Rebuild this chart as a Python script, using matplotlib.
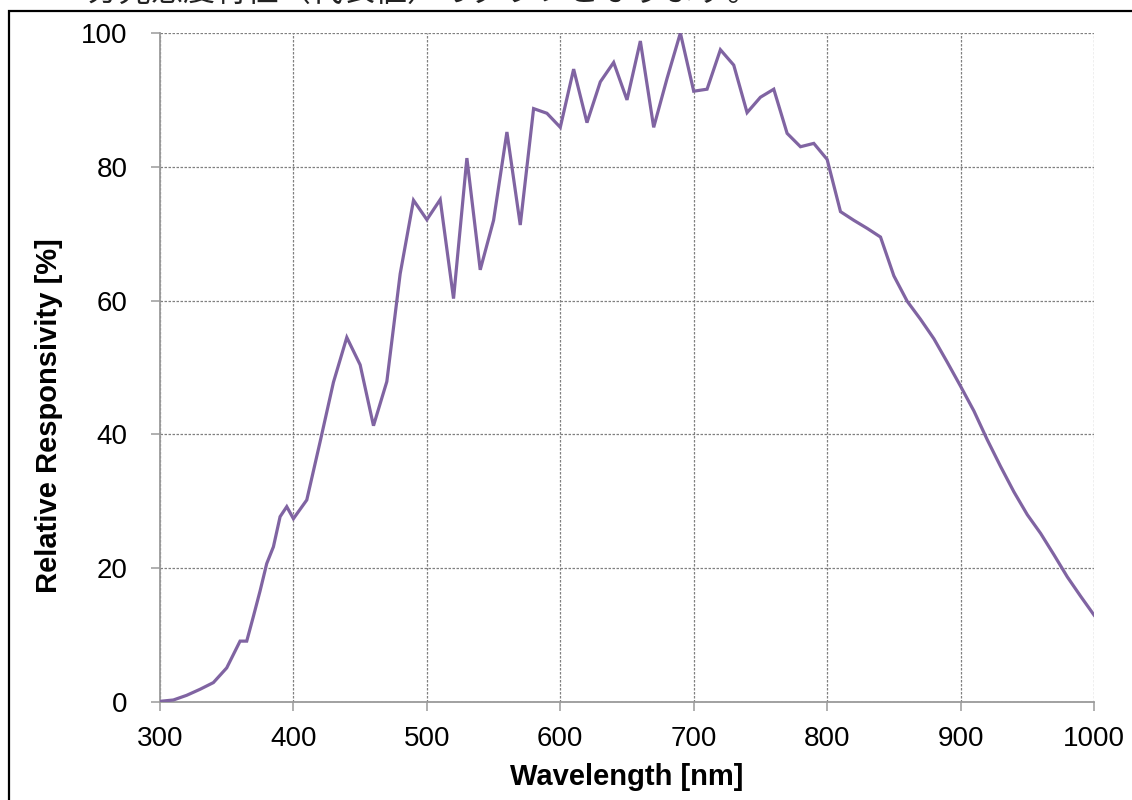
import matplotlib
matplotlib.use("Agg")
import matplotlib.pyplot as plt
from matplotlib.patches import Rectangle

plt.rcParams['font.family'] = ['Liberation Sans', 'Noto Sans CJK JP', 'DejaVu Sans']

# spectral response
wavelength = [300, 310, 320, 330, 340, 350, 360, 365, 370, 375, 380, 385, 390, 395,
              400, 410, 420, 430, 440, 450, 460, 470, 480, 490, 500, 510, 520, 530,
              540, 550, 560, 570, 580, 590, 600, 610, 620, 630, 640, 650, 660, 670,
              680, 690, 700, 710, 720, 730, 740, 750, 760, 770, 780, 790, 800, 810,
              820, 830, 840, 850, 860, 870, 880, 890, 900, 910, 920, 930, 940, 950,
              960, 970, 980, 990, 1000]
responsivity = [0.1, 0.3, 1.0, 1.9, 2.9, 5.1, 9.1, 9.1, 12.8, 16.6, 20.7, 23.2, 27.7, 29.2,
                27.4, 30.2, 38.9, 47.8, 54.5, 50.4, 41.3, 47.9, 64.0, 75.0, 72.1, 75.1, 60.3, 81.3,
                64.6, 72.0, 85.2, 71.3, 88.7, 88.0, 85.9, 94.6, 86.6, 92.7, 95.6, 90.0, 98.8, 85.9,
                93.2, 100.0, 91.3, 91.6, 97.5, 95.2, 88.1, 90.4, 91.6, 85.0, 83.0, 83.5, 81.1, 73.3,
                72.0, 70.8, 69.5, 63.7, 59.9, 57.2, 54.3, 50.8, 47.2, 43.5, 39.2, 35.2, 31.4, 28.0,
                25.2, 22.0, 18.7, 15.8, 13.0]

x_ticks = [300, 400, 500, 600, 700, 800, 900, 1000]
y_ticks = [0, 20, 40, 60, 80, 100]

fig = plt.figure(figsize=(11.32, 8), dpi=100)
ax = fig.add_axes([160 / 1132, 1 - 702 / 800, 934 / 1132, 669 / 800])

ax.plot(wavelength, responsivity, color='#8064A2', lw=2.3, solid_joinstyle='miter', zorder=3)

ax.set_xlim(300, 1000)
ax.set_ylim(0, 100)
ax.set_xticks(x_ticks)
ax.set_yticks(y_ticks)
ax.grid(True, color='#808080', lw=0.9, linestyle=(0, (2, 1.2)))
ax.set_axisbelow(True)

for s in ['top', 'right']:
    ax.spines[s].set_visible(False)
for s in ['left', 'bottom']:
    ax.spines[s].set_color('#9a9a9a')
    ax.spines[s].set_linewidth(1.3)

ax.tick_params(axis='both', direction='out', length=6.5, width=1.1, color='#9a9a9a',
               labelsize=20, labelcolor='black')
ax.tick_params(axis='x', pad=10.5)
ax.tick_params(axis='y', pad=17)

ax.set_xlabel('Wavelength [nm]', fontsize=21, fontweight='bold')
ax.set_ylabel('Relative Responsivity [%]', fontsize=21, fontweight='bold')
ax.xaxis.set_label_coords(0.5, -0.091)
ax.yaxis.set_label_coords(-0.104, 0.4275)

# screenshot frame and clipped caption above it
fig.patches.append(Rectangle((9 / 1132, -0.05), 1.2, 1 - 11 / 800 + 0.05,
                             transform=fig.transFigure, fill=False,
                             edgecolor='black', lw=1.6))
fig.text(55 / 1132, 1 - 1 / 800, '・分光感度特性（代表値）のグラフとなります。',
         fontsize=23, family=['Noto Sans CJK JP', 'DejaVu Sans'],
         va='baseline', ha='left', color='#222222')

fig.savefig('out.png', dpi=100)
